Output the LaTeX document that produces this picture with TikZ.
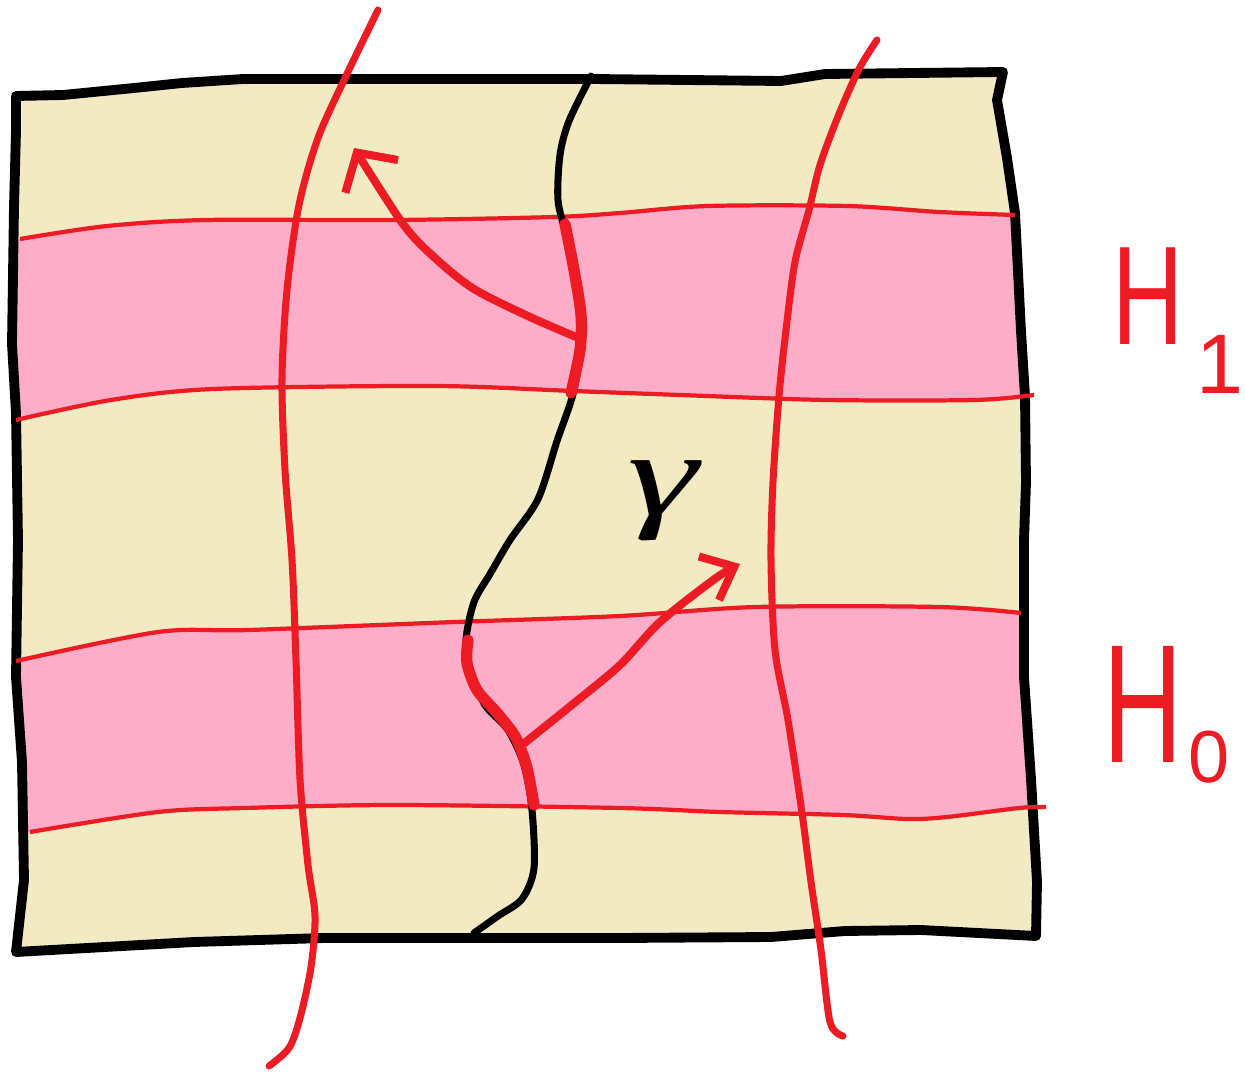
\documentclass[tikz,border=0pt]{standalone}
\usepackage{fontspec}
\usepackage{xcolor}
\usetikzlibrary{arrows.meta}
\newfontfamily\labelfont{Liberation Sans}
\newfontfamily\greekfont{Liberation Serif}
\definecolor{hsred}{HTML}{ED1C24}
\definecolor{hscream}{HTML}{F2EAC2}
\definecolor{hspink}{HTML}{FDADC7}
\tikzset{
  sheetline/.style={draw=black, line width=2.8pt, line join=round, line cap=round},
  bandline/.style={draw=hsred, line width=1.2pt},
  fibre/.style={draw=hsred, line width=2pt, line cap=round},
  gammaline/.style={draw=black, line width=2pt, line cap=round},
  gammahi/.style={draw=hsred, line width=3.2pt, line cap=round},
  push/.style={draw=hsred, line width=2.3pt, line cap=round, line join=round,
    -{Straight Barb[length=2.8mm,width=#1]}},
  push/.default=5mm,
  hlabel/.style={text=hsred, inner sep=0pt},
}
\newcommand\sheetpath{(16,96) -- (63,95) -- (134,88) -- (182,83) -- (243,79) -- (593,79)
  -- (781,81) -- (825,74) -- (1003,72) -- (997,100) -- (1007,158) -- (1015,213)
  -- (1021,331) -- (1025,396) -- (1026,482) -- (1024,540) -- (1024,677) -- (1031,779)
  -- (1037,882) -- (1036,936) -- (921,930) -- (845,931) -- (771,937) -- (620,938)
  -- (324,938) -- (194,942) -- (87,948) -- (16,952) -- (24,880) -- (22,762)
  -- (16,677) -- (18,540) -- (16,413) -- (12,344) -- (14,207) -- (16,131) -- cycle}
\begin{document}
\begin{tikzpicture}[x=0.01cm, y=-0.01cm]
\useasboundingbox (0,0) rectangle (1245,1076);

% the sheet and its two bands
\fill[hscream] \sheetpath;
\begin{scope}
  \clip \sheetpath;
  \fill[hspink] (-20,242) -- plot[smooth] coordinates {(20,239) (107,226) (206,220) (395,220) (554,217) (620,213) (708,206) (847,206) (939,212) (1015,215)}
    -- (1080,215) -- (1080,395) -- plot[smooth] coordinates {(1034,395) (975,400) (827,400) (680,395) (573,391) (435,386) (213,389) (111,400) (16,420)}
    -- (-20,425) -- cycle;
  \fill[hspink] (-20,667) -- plot[smooth] coordinates {(16,661) (158,632) (249,630) (455,622) (620,616) (756,607) (939,607) (1021,613)}
    -- (1080,613) -- (1080,807) -- plot[smooth] coordinates {(1046,807) (1019,808) (947,817) (907,819) (843,815) (720,812) (620,808) (395,805) (245,808) (158,812) (30,832)}
    -- (-20,840) -- cycle;
\end{scope}
\draw[sheetline] \sheetpath;

\draw[bandline] plot[smooth] coordinates {(20,239) (107,226) (206,220) (395,220) (554,217) (620,213) (708,206) (847,206) (939,212) (1015,215)};
\draw[bandline] plot[smooth] coordinates {(16,420) (111,400) (213,389) (435,386) (573,391) (680,395) (827,400) (975,400) (1034,395)};
\draw[bandline] plot[smooth] coordinates {(16,661) (158,632) (249,630) (455,622) (620,616) (756,607) (939,607) (1021,613)};
\draw[bandline] plot[smooth] coordinates {(30,832) (158,812) (245,808) (395,805) (620,808) (720,812) (843,815) (907,819) (947,817) (1019,808) (1046,807)};

% transverse leaves
\draw[fibre] plot[smooth] coordinates {(378,10) (346,76) (318,138) (299,205) (287,290) (282,379) (285,470) (292,560) (296,660) (300,779) (308,865) (315,916) (311,967) (300,1018) (289,1048) (269,1066)};
\draw[fibre] plot[smooth] coordinates {(877,40) (859,69) (839,114) (820,165) (809,210) (795,262) (786,330) (779,396) (773,482) (771,560) (775,650) (788,720) (802,813) (811,882) (821,950) (830,1022) (843,1036)};

% the curve gamma
\draw[gammaline] plot[smooth] coordinates {(591,76) (569,121) (560,155) (558,200) (566,235) (577,290) (580,335) (574,390) (557,441) (538,499) (510,540) (490,574) (474,602) (466,640) (470,670) (485,705) (508,730) (524,765) (532,810) (534,868) (522,899) (498,916) (474,933)};
\draw[gammahi] plot[smooth] coordinates {(565,224) (574,270) (581,315) (580,350) (571,393)};
\draw[gammahi] plot[smooth] coordinates {(468,640) (467,663) (477,690) (498,714) (516,738) (527,768) (534,805)};

\coordinate (upfoot) at (581,339);
\coordinate (uptip) at (354,148);
\coordinate (lofoot) at (522,745);
\coordinate (lotip) at (740,564);
\draw[push=6.2mm] plot[smooth] coordinates {(upfoot) (530,317) (474,289) (435,258) (403,224) (uptip)};
\draw[push=4.8mm] plot[smooth] coordinates {(lofoot) (573,704) (620,665) (660,622) (716,578) (lotip)};

\node[font=\greekfont\itshape\fontsize{34}{34}\selectfont, inner sep=0pt] (gam) at (663,501) {\scalebox{1.5}[1]{γ}};

\node[hlabel, font=\labelfont\fontsize{40}{40}\selectfont] (hone) at (1148,296) {\scalebox{0.7}[1]{H}};
\node[hlabel, font=\labelfont\fontsize{24}{24}\selectfont] (honesub) at (1220,364) {1};
\node[hlabel, font=\labelfont\fontsize{48}{48}\selectfont] (hzero) at (1143,704) {\scalebox{0.65}[1]{H}};
\node[hlabel, font=\labelfont\fontsize{21}{21}\selectfont] (hzerosub) at (1209,757) {0};
\end{tikzpicture}
\end{document}
